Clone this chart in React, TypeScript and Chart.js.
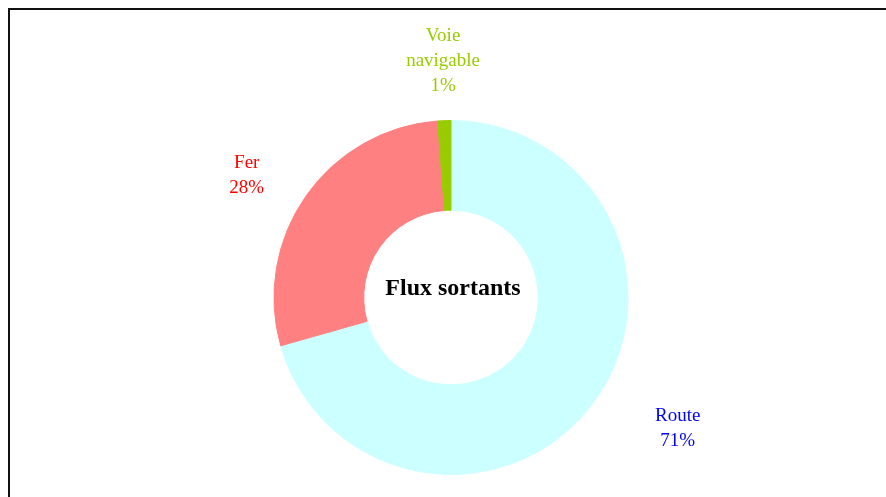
import React, { useEffect, useRef } from "react";
import { Chart, registerables } from "chart.js";

Chart.register(...registerables);

const categories = ["Route", "Fer", "Voie navigable"];
const values = [70.6, 28.2, 1.2];
const percentLabels = ["71%", "28%", "1%"];
const sliceColors = ["#CCFFFF", "#FF8080", "#99CC00"];
const labelColors = ["#0000FF", "#FF0000", "#99CC00"];
const centerTitle = "Flux sortants";

// label nudges (layout only)
const labelNudges = [
  { dx: 49, dy: -5 },
  { dx: -26, dy: 6 },
  { dx: 1, dy: 0 },
];

const FONT = "'Liberation Serif', 'Times New Roman', serif";

const labelPlugin = {
  id: "outerLabels",
  afterDraw(chart: any) {
    const ctx = chart.ctx;
    const meta = chart.getDatasetMeta(0);
    ctx.save();
    const lineH = 25;
    ctx.font = `19px ${FONT}`;
    ctx.textAlign = "center";
    ctx.textBaseline = "alphabetic";
    meta.data.forEach((arc: any, i: number) => {
      const p = arc.getProps(["x", "y", "startAngle", "endAngle", "outerRadius"], true);
      const mid = (p.startAngle + p.endAngle) / 2;
      const cx = Math.cos(mid);
      const sy = Math.sin(mid);
      const lines = [...categories[i].split(" "), percentLabels[i]];
      const w = Math.max(...lines.map((l) => ctx.measureText(l).width));
      const h = lines.length * lineH;
      const r = p.outerRadius + 23;
      const bx = p.x + cx * r + (cx * w) / 2 + labelNudges[i].dx;
      const by = p.y + sy * r + (sy * h) / 2 + labelNudges[i].dy;
      ctx.fillStyle = labelColors[i];
      lines.forEach((l, k) => {
        const y = by - h / 2 + k * lineH + 18;
        ctx.fillText(l, bx, y);
      });
    });
    const a0 = meta.data[0];
    if (a0) {
      ctx.fillStyle = "#000000";
      ctx.font = `bold 24px ${FONT}`;
      ctx.fillText(centerTitle, a0.x + 2, a0.y - 3);
    }
    ctx.restore();
  },
};

export default function App() {
  const ref = useRef<HTMLCanvasElement>(null);
  useEffect(() => {
    if (!ref.current) return;
    const chart = new Chart(ref.current, {
      type: "doughnut",
      data: {
        labels: categories,
        datasets: [
          {
            data: values,
            backgroundColor: sliceColors,
            borderColor: sliceColors,
            borderWidth: 1,
            hoverOffset: 0,
          },
        ],
      },
      options: {
        responsive: false,
        animation: false,
        events: [],
        cutout: "49.3%",
        rotation: 0,
        layout: { padding: { left: 6, right: 0, top: 110, bottom: 22 } },
        plugins: {
          legend: { display: false },
          tooltip: { enabled: false },
          title: { display: false },
        },
      },
      plugins: [labelPlugin],
    });
    return () => chart.destroy();
  }, []);
  return (
    <div
      style={{
        position: "fixed",
        left: 8,
        top: 8,
        width: 1000,
        height: 600,
        borderTop: "2px solid #111",
        borderLeft: "2px solid #111",
        background: "#fff",
      }}
    >
      <canvas ref={ref} width={876} height={487} style={{ display: "block" }} />
    </div>
  );
}
